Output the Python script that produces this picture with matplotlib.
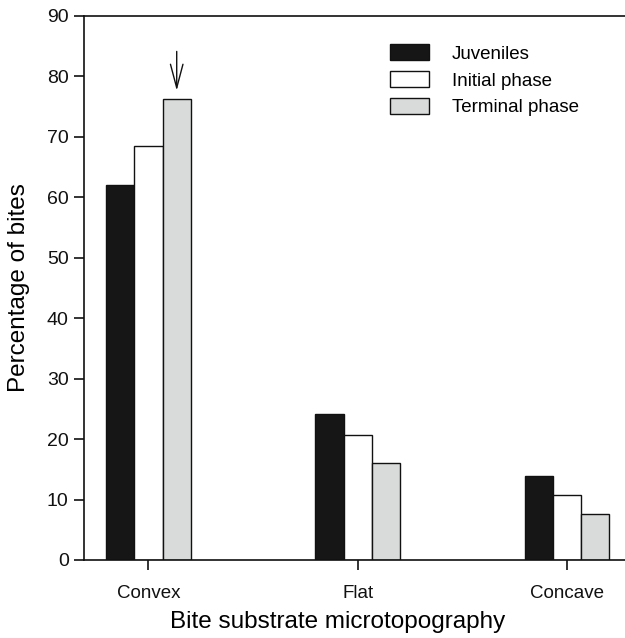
import matplotlib
matplotlib.use("Agg")
import matplotlib.pyplot as plt
import numpy as np

plt.rcParams['font.family'] = ['Liberation Sans', 'DejaVu Sans']

categories = ['Convex', 'Flat', 'Concave']
series = ['Juveniles', 'Initial phase', 'Terminal phase']
juveniles = [62.0, 24.1, 13.9]
initial_phase = [68.5, 20.6, 10.8]
terminal_phase = [76.3, 16.1, 7.6]
yticks = [0, 10, 20, 30, 40, 50, 60, 70, 80, 90]

colors = ['#161616', '#ffffff', '#d9dbdb']
values = [juveniles, initial_phase, terminal_phase]

fig = plt.figure(figsize=(6.25, 6.38), dpi=100)
ax = fig.add_axes([84 / 625, 78 / 638, 1 - 84 / 625, (560 - 16) / 638])

x = np.arange(len(categories))
w = 0.135
for i, vals in enumerate(values):
    ax.bar(x + (i - 1) * w, vals, width=w, color=colors[i], edgecolor='#111111',
           linewidth=1.0, label=series[i], zorder=2)

ax.set_xlim(-0.308, 2.277)
ax.set_ylim(0, 90)
ax.set_yticks(yticks)
ax.set_xticks(x)
ax.set_xticklabels(categories)
ax.spines['right'].set_visible(False)
for s in ['left', 'bottom', 'top']:
    ax.spines[s].set_linewidth(1.2)
    ax.spines[s].set_color('#111111')
ax.tick_params(axis='both', direction='out', length=7, width=1.2, colors='#111111')
ax.tick_params(axis='y', labelsize=14, pad=4)
ax.tick_params(axis='x', labelsize=13.5, pad=11)
ax.set_ylabel('Percentage of bites', fontsize=17.5, labelpad=12)
ax.set_xlabel('Bite substrate microtopography', fontsize=17.5)
ax.xaxis.set_label_coords(0.468, -0.093)

# arrow over terminal phase convex bar
ax.annotate('', xy=(0 + w, terminal_phase[0] + 0.9), xytext=(0 + w, 84.6),
            arrowprops=dict(arrowstyle='->,head_length=1.7,head_width=0.45', color='#111111', lw=1.0))

ax.legend(loc='upper left', bbox_to_anchor=(390 / 625, 1 - 44 / 638), bbox_transform=fig.transFigure,
          frameon=False, fontsize=13.5, handlelength=2.1, handleheight=0.95, handletextpad=1.2,
          labelspacing=0.45, borderpad=0, borderaxespad=0)

plt.savefig('out.png', dpi=100)
